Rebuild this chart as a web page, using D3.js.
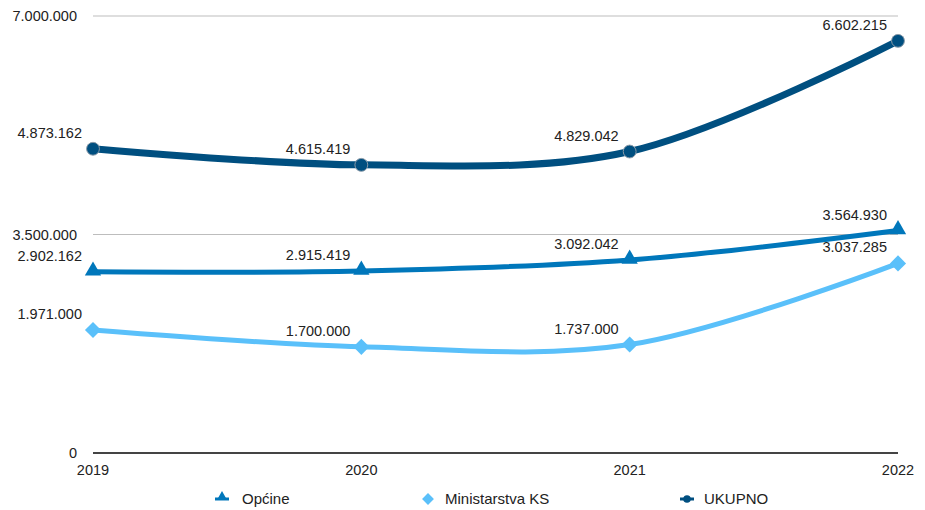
<!DOCTYPE html>
<html>
<head>
<meta charset="utf-8">
<script src="https://cdnjs.cloudflare.com/ajax/libs/d3/7.8.5/d3.min.js"></script>
<style>
  body { margin: 0; background: #fff; }
  svg text { font-family: "Liberation Sans", Helvetica, Arial, sans-serif; fill: #222; }
</style>
</head>
<body>
<svg id="chart" width="925" height="510"></svg>
<script>
var years = ["2019", "2020", "2021", "2022"];
var opcine = [2902162, 2915419, 3092042, 3564930];
var ministarstva = [1971000, 1700000, 1737000, 3037285];
var ukupno = [4873162, 4615419, 4829042, 6602215];
var yTicks = [0, 3500000, 7000000];

var series = [
  { name: "Općine", values: opcine, color: "#0077bb", width: 5, marker: "triangle" },
  { name: "Ministarstva KS", values: ministarstva, color: "#5ac0fa", width: 5, marker: "diamond" },
  { name: "UKUPNO", values: ukupno, color: "#004f80", width: 7, marker: "circle" }
];

var fmt = function(v) {
  return d3.format(",")(v).replace(/,/g, ".");
};

var svg = d3.select("#chart");
var x = d3.scalePoint().domain(years).range([93, 898]);
var y = d3.scaleLinear().domain([0, 7000000]).range([453, 16]);

// gridlines
svg.selectAll("line.grid").data(yTicks).enter().append("line")
  .attr("x1", 93).attr("x2", 898)
  .attr("y1", function(d) { return y(d); }).attr("y2", function(d) { return y(d); })
  .style("stroke", function(d) { return d === 0 ? "#444" : "#bdbdbd"; })
  .style("stroke-width", function(d) { return d === 0 ? 2 : 1; });

svg.selectAll("text.ytick").data(yTicks).enter().append("text")
  .attr("x", 77).attr("y", function(d) { return y(d); })
  .attr("dy", "0.35em").attr("text-anchor", "end")
  .style("font-size", "14.5px")
  .text(fmt);

svg.selectAll("text.xtick").data(years).enter().append("text")
  .attr("x", function(d) { return x(d); }).attr("y", 475)
  .attr("text-anchor", "middle")
  .style("font-size", "14.5px")
  .text(function(d) { return d; });

var line = d3.line()
  .x(function(d, i) { return x(years[i]); })
  .y(function(d) { return y(d); })
  .curve(d3.curveCatmullRom.alpha(0.5));

var symbolFor = function(m, size) {
  var type = m === "triangle" ? d3.symbolTriangle : m === "diamond" ? d3.symbolSquare : d3.symbolCircle;
  return d3.symbol().type(type).size(size)();
};

series.forEach(function(s) {
  svg.append("path").datum(s.values)
    .attr("d", line)
    .style("fill", "none")
    .style("stroke", s.color)
    .style("stroke-width", s.width);

  var g = svg.selectAll(null).data(s.values).enter().append("g")
    .attr("transform", function(d, i) {
      return "translate(" + x(years[i]) + "," + y(d) + ")" + (s.marker === "diamond" ? " rotate(45)" : "");
    });
  g.append("path")
    .attr("d", symbolFor(s.marker, s.marker === "triangle" ? 115 : 130))
    .attr("transform", s.marker === "triangle" ? "translate(0,-1)" : null)
    .style("fill", s.color)
    .style("stroke", s.marker === "circle" ? "#8a9aa8" : "none")
    .style("stroke-width", 1);

  svg.selectAll(null).data(s.values).enter().append("text")
    .attr("x", function(d, i) { return x(years[i]) - 11; })
    .attr("y", function(d) { return y(d) - 16; })
    .attr("dy", "0.35em")
    .attr("text-anchor", "end")
    .style("font-size", "14.5px")
    .text(fmt);
});

// legend
var legendX = [222, 428, 687];
var lg = svg.selectAll("g.legend").data(series).enter().append("g")
  .attr("transform", function(d, i) { return "translate(" + legendX[i] + ",499)"; });
lg.filter(function(d) { return d.marker !== "diamond"; }).append("line")
  .attr("x1", -7).attr("x2", 7)
  .style("stroke", function(d) { return d.color; })
  .style("stroke-width", 3);
lg.append("path")
  .attr("d", function(d) { return symbolFor(d.marker, d.marker === "diamond" ? 70 : 45); })
  .attr("transform", function(d) { return d.marker === "diamond" ? "rotate(45)" : d.marker === "triangle" ? "translate(0,-2)" : null; })
  .style("fill", function(d) { return d.color; });
lg.append("text")
  .attr("x", function(d) { return d.marker === "triangle" ? 20 : 17; })
  .attr("dy", "0.35em")
  .style("font-size", "15px")
  .text(function(d) { return d.name; });
</script>
</body>
</html>
